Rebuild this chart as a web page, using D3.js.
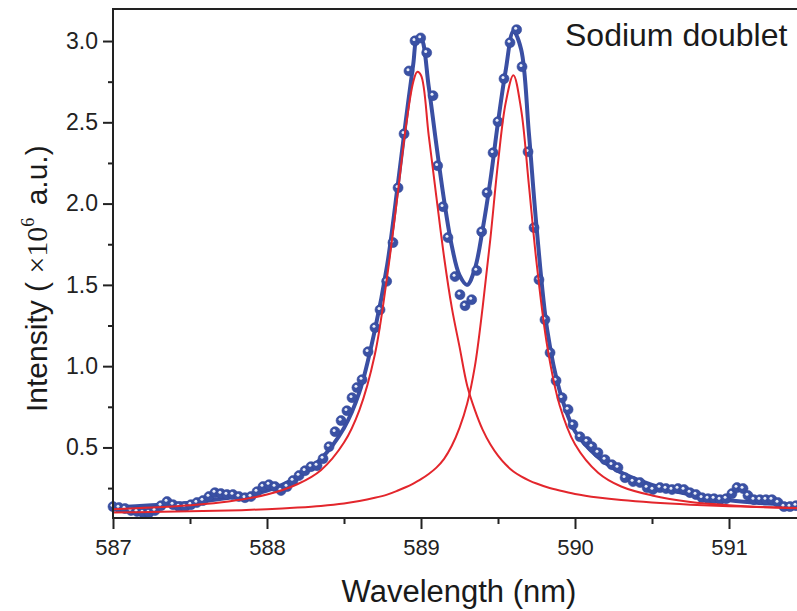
<!DOCTYPE html>
<html>
<head>
<meta charset="utf-8">
<script src="https://cdnjs.cloudflare.com/ajax/libs/d3/7.8.5/d3.min.js"></script>
<style>
  body { margin: 0; background: #fff; }
  svg { display: block; font-family: "Liberation Sans", Arial, sans-serif; }
</style>
</head>
<body>
<svg id="chart" width="797" height="611"></svg>
<script>
// measured points (nm, x10^6 a.u.)
var dotWavelength = [
  587.000, 587.039, 587.078, 587.117, 587.156, 587.195, 587.234, 587.273, 587.312, 587.351,
  587.390, 587.429, 587.468, 587.506, 587.545, 587.584, 587.623, 587.662, 587.701, 587.740,
  587.779, 587.818, 587.857, 587.896, 587.935, 587.974, 588.013, 588.052, 588.091, 588.130,
  588.169, 588.208, 588.247, 588.286, 588.325, 588.364, 588.403, 588.442, 588.481, 588.519,
  588.552, 588.584, 588.617, 588.656, 588.701, 588.734, 588.777, 588.818, 588.851, 588.890,
  588.922, 588.961, 588.998, 589.037, 589.078, 589.108, 589.143, 589.175, 589.221, 589.253,
  589.286, 589.329, 589.362, 589.394, 589.429, 589.468, 589.500, 589.539, 589.578, 589.621,
  589.656, 589.695, 589.734, 589.766, 589.805, 589.838, 589.877, 589.916, 589.955, 589.987,
  590.032, 590.078, 590.110, 590.149, 590.195, 590.240, 590.279, 590.325, 590.377, 590.422,
  590.468, 590.506, 590.552, 590.591, 590.630, 590.669, 590.708, 590.747, 590.786, 590.825,
  590.864, 590.903, 590.942, 590.981, 591.019, 591.052, 591.091, 591.123, 591.162, 591.201,
  591.240, 591.279, 591.318, 591.357, 591.396, 591.435
];
var dotIntensity = [
  0.136, 0.130, 0.124, 0.112, 0.106, 0.099, 0.099, 0.112, 0.142, 0.167,
  0.148, 0.136, 0.136, 0.148, 0.161, 0.173, 0.198, 0.222, 0.216, 0.210,
  0.210, 0.198, 0.191, 0.198, 0.228, 0.259, 0.271, 0.259, 0.235, 0.259,
  0.296, 0.327, 0.357, 0.382, 0.388, 0.431, 0.505, 0.597, 0.665, 0.726,
  0.806, 0.868, 0.917, 1.089, 1.237, 1.347, 1.522, 1.760, 2.097, 2.429,
  2.816, 3.001, 3.019, 2.928, 2.664, 2.233, 1.981, 1.791, 1.551, 1.440,
  1.372, 1.409, 1.588, 1.827, 2.067, 2.313, 2.504, 2.768, 2.990, 3.070,
  2.842, 2.319, 1.852, 1.532, 1.286, 1.083, 0.911, 0.806, 0.733, 0.640,
  0.566, 0.536, 0.505, 0.468, 0.425, 0.394, 0.376, 0.314, 0.290, 0.284,
  0.253, 0.241, 0.253, 0.247, 0.241, 0.247, 0.241, 0.222, 0.210, 0.191,
  0.185, 0.185, 0.179, 0.185, 0.216, 0.253, 0.247, 0.204, 0.179, 0.179,
  0.179, 0.179, 0.161, 0.136, 0.136, 0.142
];

// fitted curves
var curveWavelength = [
  587.0, 587.25, 587.5, 587.75, 588.0, 588.2, 588.35, 588.5, 588.6, 588.7,
  588.78, 588.85, 588.9, 588.95, 588.975, 589.0, 589.05, 589.1, 589.15, 589.2,
  589.25, 589.3, 589.35, 589.4, 589.45, 589.5, 589.55, 589.6, 589.65, 589.7,
  589.75, 589.82, 589.9, 590.0, 590.15, 590.3, 590.5, 590.75, 591.0, 591.25,
  591.46
];
var fitIntensity = [
  0.13, 0.145, 0.16, 0.19, 0.235, 0.32, 0.43, 0.62, 0.84, 1.22,
  1.62, 2.12, 2.50, 2.86, 3.02, 3.02, 2.72, 2.36, 2.02, 1.74,
  1.56, 1.50, 1.60, 1.84, 2.14, 2.50, 2.82, 3.06, 2.95, 2.44,
  1.86, 1.22, 0.85, 0.60, 0.44, 0.345, 0.27, 0.21, 0.175, 0.155,
  0.145
];
var peak1Intensity = [
  0.12, 0.13, 0.145, 0.168, 0.21, 0.275, 0.36, 0.53, 0.73, 1.07,
  1.55, 2.07, 2.46, 2.75, 2.81, 2.79, 2.42, 2.04, 1.67, 1.36,
  1.12, 0.88, 0.73, 0.61, 0.52, 0.45, 0.395, 0.352, 0.322, 0.298,
  0.278, 0.255, 0.235, 0.214, 0.192, 0.176, 0.161, 0.148, 0.139, 0.132,
  0.127
];
var peak2Intensity = [
  0.10, 0.103, 0.107, 0.112, 0.12, 0.13, 0.14, 0.155, 0.17, 0.19,
  0.21, 0.235, 0.255, 0.278, 0.291, 0.305, 0.337, 0.376, 0.43, 0.51,
  0.62, 0.77, 1.00, 1.36, 1.78, 2.25, 2.62, 2.79, 2.58, 2.12,
  1.64, 1.12, 0.76, 0.52, 0.345, 0.26, 0.205, 0.165, 0.145, 0.132,
  0.125
];

var xMajor = [587, 588, 589, 590, 591];
var xMinor = [587.5, 588.5, 589.5, 590.5, 591.5];
var yMajor = [0.5, 1.0, 1.5, 2.0, 2.5, 3.0];
var yMinor = [0.25, 0.75, 1.25, 1.75, 2.25, 2.75];

var svg = d3.select('#chart');
var plotLeft = 113, plotTop = 9, plotBottom = 518, plotRight = 800;

var x = d3.scaleLinear().domain([587, 591.461]).range([plotLeft, plotRight]);
var y = d3.scaleLinear().domain([0.066, 3.197]).range([plotBottom, plotTop]);

function zip(xs, ys) {
  return xs.map(function(d, i) { return [d, ys[i]]; });
}

var line = d3.line()
  .x(function(d) { return x(d[0]); })
  .y(function(d) { return y(d[1]); })
  .curve(d3.curveCatmullRom.alpha(0.5));

var plot = svg.append('g');

//fit line under the dots
plot.append('path')
  .datum(zip(curveWavelength, fitIntensity))
  .attr('d', line)
  .attr('fill', 'none')
  .attr('stroke', '#3a4fa3')
  .attr('stroke-width', 4);

//dots with a small highlight
var dots = plot.selectAll('g.dot')
  .data(zip(dotWavelength, dotIntensity))
  .enter().append('g')
  .attr('class', 'dot')
  .attr('transform', function(d) { return 'translate(' + x(d[0]) + ',' + y(d[1]) + ')'; });
dots.append('circle').attr('r', 5).attr('fill', '#3a51a4').attr('stroke', '#34489a').attr('stroke-width', 0.6);
dots.append('circle').attr('r', 1.5).attr('cx', -1).attr('cy', -1.3).attr('fill', '#e8ecf8');

//lorentz components
[peak1Intensity, peak2Intensity].forEach(function(vals) {
  plot.append('path')
    .datum(zip(curveWavelength, vals))
    .attr('d', line)
    .attr('fill', 'none')
    .attr('stroke', '#e3262c')
    .attr('stroke-width', 2);
});

//axes
var ink = '#222';
function styleAxis(g) {
  g.select('.domain').remove();
  g.selectAll('.tick line').attr('stroke', ink).attr('stroke-width', 2);
  g.selectAll('.tick text').attr('fill', ink).attr('font-size', 22)
    .attr('font-family', '"Liberation Sans", Arial, sans-serif');
}

svg.append('g')
  .attr('transform', 'translate(0,' + plotBottom + ')')
  .call(d3.axisBottom(x).tickValues(xMajor).tickSize(11).tickPadding(10).tickFormat(d3.format('d')))
  .call(styleAxis);
svg.append('g')
  .attr('transform', 'translate(0,' + plotBottom + ')')
  .call(d3.axisBottom(x).tickValues(xMinor).tickSize(6).tickFormat(''))
  .call(styleAxis);
svg.append('g')
  .attr('transform', 'translate(' + plotLeft + ',0)')
  .call(d3.axisLeft(y).tickValues(yMajor).tickSize(10).tickPadding(5).tickFormat(d3.format('.1f')))
  .call(styleAxis)
  .selectAll('.tick text').attr('font-size', 23);
svg.append('g')
  .attr('transform', 'translate(' + plotLeft + ',0)')
  .call(d3.axisLeft(y).tickValues(yMinor).tickSize(5).tickFormat(''))
  .call(styleAxis);

//frame
svg.append('path')
  .attr('d', 'M' + plotRight + ',' + plotTop + 'H' + plotLeft + 'V' + plotBottom + 'H' + plotRight)
  .attr('fill', 'none')
  .attr('stroke', ink)
  .attr('stroke-width', 2);

//labels
svg.append('text')
  .attr('x', 459).attr('y', 602)
  .attr('text-anchor', 'middle')
  .attr('font-size', 31)
  .attr('fill', '#1a1a1a')
  .text('Wavelength (nm)');

svg.append('text')
  .attr('x', 565).attr('y', 46)
  .attr('font-size', 32)
  .attr('fill', '#1a1a1a')
  .text('Sodium doublet');

var serif = '"Liberation Serif", "Times New Roman", serif';
var yLabel = svg.append('text')
  .attr('transform', 'translate(47,412) rotate(-90)')
  .attr('font-size', 30)
  .attr('fill', '#1a1a1a');
yLabel.append('tspan').text('Intensity ( ');
yLabel.append('tspan').attr('font-family', serif).text('\u00d710');
yLabel.append('tspan').attr('font-family', serif).attr('font-size', 18).attr('dy', -13).text('6');
yLabel.append('tspan').attr('dy', 13).attr('dx', 4).text(' a.u.)');
</script>
</body>
</html>
